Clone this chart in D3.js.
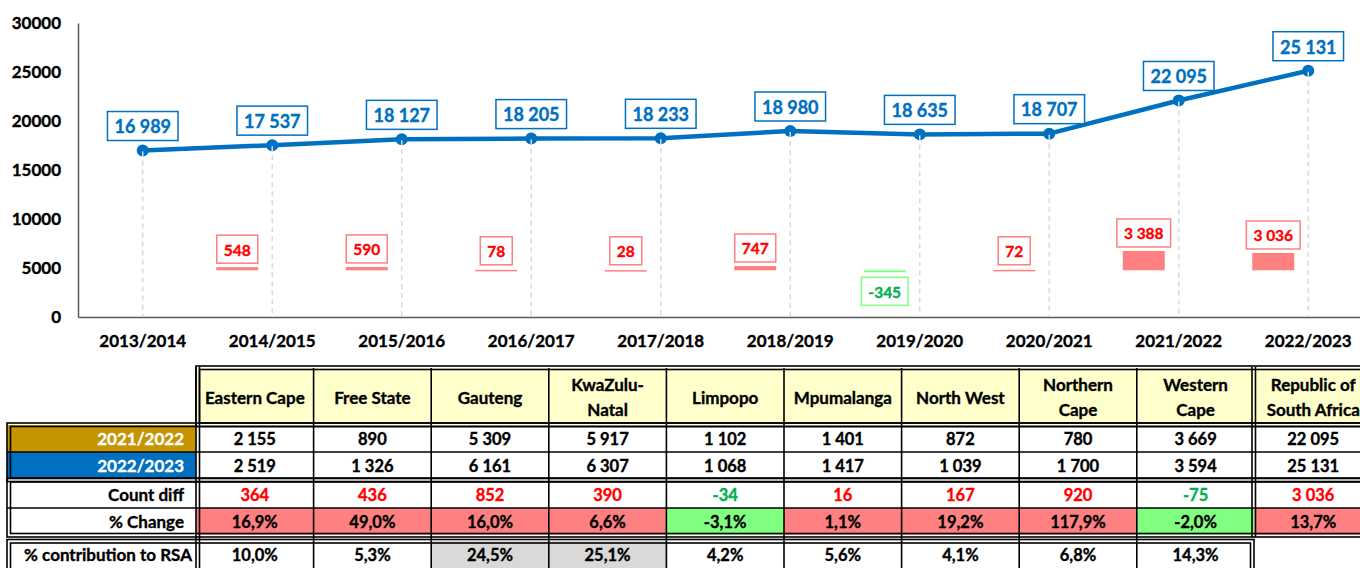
<!DOCTYPE html>
<html>
<head>
<meta charset="utf-8">
<script src="https://cdn.jsdelivr.net/npm/d3@7"></script>
<style>
    body { margin: 0; background: #fff; overflow: hidden; }
    svg { display: block; font-family: Lato, 'Liberation Sans', sans-serif; font-weight: bold; }
    svg text { stroke-width: 0.35px; }
</style>
</head>
<body>
<svg id="chart" width="1360" height="568"></svg>
<script>
// ---- chart data ----
const years = ['2013/2014', '2014/2015', '2015/2016', '2016/2017', '2017/2018',
    '2018/2019', '2019/2020', '2020/2021', '2021/2022', '2022/2023'];
const totals = [16989, 17537, 18127, 18205, 18233, 18980, 18635, 18707, 22095, 25131];
const yearDiffs = [null, 548, 590, 78, 28, 747, -345, 72, 3388, 3036];
const yTicks = [0, 5000, 10000, 15000, 20000, 25000, 30000];

// ---- table data ----
const provinces = ['Eastern Cape', 'Free State', 'Gauteng', 'KwaZulu-Natal', 'Limpopo',
    'Mpumalanga', 'North West', 'Northern Cape', 'Western Cape', 'Republic of South Africa'];
const provinceHeaders = [['Eastern Cape'], ['Free State'], ['Gauteng'], ['KwaZulu-', 'Natal'], ['Limpopo'],
    ['Mpumalanga'], ['North West'], ['Northern', 'Cape'], ['Western', 'Cape'], ['Republic of', 'South Africa']];
const count2122 = [2155, 890, 5309, 5917, 1102, 1401, 872, 780, 3669, 22095];
const count2223 = [2519, 1326, 6161, 6307, 1068, 1417, 1039, 1700, 3594, 25131];
const countDiff = [364, 436, 852, 390, -34, 16, 167, 920, -75, 3036];
const pctChange = [16.9, 49.0, 16.0, 6.6, -3.1, 1.1, 19.2, 117.9, -2.0, 13.7];
const contribution = [10.0, 5.3, 24.5, 25.1, 4.2, 5.6, 4.1, 6.8, 14.3];
const highlighted = ['Gauteng', 'KwaZulu-Natal'];

const locale = d3.formatLocale({decimal: ',', thousands: ' ', grouping: [3], currency: ['', ''], minus: '-'});
const fmtInt = locale.format(',d');
const fmtPct = v => locale.format('.1f')(v) + '%';

const BLUE = '#0070c0', RED = '#ff0000', GREEN = '#00b050';
const PINK = '#ff8080', LIME = '#80ff80';

const svg = d3.select('#chart');

// text gets a thin outline in its own colour so it reads as heavy as the original
const ink = (sel, colour) => sel.attr('fill', colour).attr('stroke', colour);

// ---------------- line chart ----------------
const x = d3.scaleBand().domain(years).range([78, 1373]);
const y = d3.scaleLinear().domain([0, 30000]).range([317, 23]);
const yDiff = d3.scaleLinear().domain([-8200, 43400]).range([317, 23]);
const cx = d => x(d) + x.bandwidth() / 2;

const yAxis = svg.append('g')
    .attr('transform', 'translate(78,0)')
    .call(d3.axisLeft(y).tickValues(yTicks).tickSize(0).tickPadding(17).tickFormat(d3.format('d')))
    .attr('font-family', null).attr('font-size', null);
yAxis.select('.domain').attr('stroke', '#595959').attr('stroke-width', 1.5);
yAxis.selectAll('text').attr('font-size', '17px').call(ink, '#000');

const xAxis = svg.append('g')
    .attr('transform', 'translate(0,317)')
    .call(d3.axisBottom(x).tickSize(0).tickPadding(18))
    .attr('font-family', null).attr('font-size', null);
xAxis.select('.domain').attr('stroke', '#595959').attr('stroke-width', 1.5);
xAxis.selectAll('text').attr('font-size', '17px').call(ink, '#000');

// year-on-year difference bars
const diffData = years.map((yr, i) => ({year: yr, value: yearDiffs[i]})).filter(d => d.value !== null);

svg.selectAll('.diff-bar')
    .data(diffData)
    .enter().append('rect')
    .attr('class', 'diff-bar')
    .attr('x', d => cx(d.year) - 56)
    .attr('y', d => Math.min(yDiff(d.value), yDiff(0)))
    .attr('width', 42)
    .attr('height', d => Math.max(1.5, Math.abs(yDiff(d.value) - yDiff(0))))
    .attr('fill', d => d.value < 0 ? LIME : PINK);

const diffLabels = svg.selectAll('.diff-label')
    .data(diffData)
    .enter().append('g')
    .attr('class', 'diff-label');

diffLabels.each(function (d) {
    const g = d3.select(this);
    const t = g.append('text')
        .attr('text-anchor', 'middle')
        .attr('font-size', '15.5px')
        .call(ink, d.value < 0 ? GREEN : RED)
        .text(fmtInt(d.value));
    const w = t.node().getComputedTextLength() + 14;
    const h = 28;
    const midX = cx(d.year) - 35;
    const top = d.value < 0 ? yDiff(d.value) + 5 : Math.min(yDiff(d.value), yDiff(0) - 1.5) - 4 - h;
    g.insert('rect', 'text')
        .attr('x', midX - w / 2)
        .attr('y', top)
        .attr('width', w)
        .attr('height', h)
        .attr('fill', '#fff')
        .attr('stroke', d.value < 0 ? LIME : PINK)
        .attr('stroke-width', 1.5);
    t.attr('x', midX).attr('y', top + h / 2 + 1).attr('dy', '0.35em');
});

// total line
const lineData = years.map((yr, i) => ({year: yr, value: totals[i]}));

svg.append('path')
    .datum(lineData)
    .attr('fill', 'none')
    .attr('stroke', BLUE)
    .attr('stroke-width', 4.5)
    .attr('stroke-linejoin', 'round')
    .attr('d', d3.line().x(d => cx(d.year)).y(d => y(d.value)));

svg.selectAll('.marker')
    .data(lineData)
    .enter().append('circle')
    .attr('class', 'marker')
    .attr('cx', d => cx(d.year))
    .attr('cy', d => y(d.value))
    .attr('r', 6)
    .attr('fill', BLUE);

svg.selectAll('.drop')
    .data(lineData)
    .enter().append('line')
    .attr('class', 'drop')
    .attr('x1', d => cx(d.year))
    .attr('x2', d => cx(d.year))
    .attr('y1', d => y(d.value) + 1)
    .attr('y2', 316)
    .attr('stroke', '#d9d9d9')
    .attr('stroke-width', 1.5)
    .attr('stroke-dasharray', '5,4');

svg.selectAll('.total-label')
    .data(lineData)
    .enter().append('g')
    .attr('class', 'total-label')
    .each(function (d) {
        const g = d3.select(this);
        const t = g.append('text')
            .attr('text-anchor', 'middle')
            .attr('font-size', '18px')
            .call(ink, BLUE)
            .text(fmtInt(d.value));
        const w = Math.max(65, t.node().getComputedTextLength() + 14);
        const h = 29;
        const top = y(d.value) - 10 - h;
        g.insert('rect', 'text')
            .attr('x', cx(d.year) - w / 2)
            .attr('y', top)
            .attr('width', w)
            .attr('height', h)
            .attr('fill', '#fff')
            .attr('stroke', BLUE)
            .attr('stroke-width', 1.5);
        t.attr('x', cx(d.year)).attr('y', top + h / 2 + 1).attr('dy', '0.35em');
    });

// ---------------- table ----------------
const col = d3.scaleBand().domain(provinces).range([196, 1372]);
const table = svg.append('g').attr('class', 'table');
const labelLeft = 7, labelRight = 196;

const rows = [
    {label: '2021/2022', top: 425, h: 27, values: count2122.map(fmtInt),
        labelFill: '#c59400', labelColor: '#fff'},
    {label: '2022/2023', top: 452, h: 27, values: count2223.map(fmtInt),
        labelFill: BLUE, labelColor: '#fff'},
    {label: 'Count diff', top: 481, h: 27, values: countDiff.map(fmtInt),
        color: (v, i) => countDiff[i] < 0 ? GREEN : RED},
    {label: '% Change', top: 508, h: 27, values: pctChange.map(fmtPct),
        fill: (v, i) => pctChange[i] < 0 ? LIME : PINK},
    {label: '% contribution to RSA', top: 541, h: 27, values: contribution.map(fmtPct),
        fill: (v, i) => highlighted.includes(provinces[i]) ? '#d9d9d9' : '#fff'}
];

// header
const header = table.selectAll('.head')
    .data(provinces)
    .enter().append('g')
    .attr('class', 'head');

header.append('rect')
    .attr('x', d => col(d))
    .attr('y', 368)
    .attr('width', col.bandwidth())
    .attr('height', 56)
    .attr('fill', '#ffffcc');

header.each(function (d, i) {
    const lines = provinceHeaders[i];
    const midY = 398 - (lines.length - 1) * 12.5;
    d3.select(this).selectAll('text')
        .data(lines)
        .enter().append('text')
        .attr('x', col(d) + col.bandwidth() / 2)
        .attr('y', (l, j) => midY + j * 25)
        .attr('dy', '0.35em')
        .attr('text-anchor', 'middle')
        .attr('font-size', '17px')
        .call(ink, '#000')
        .text(l => l);
});

// body rows
rows.forEach(r => {
    const g = table.append('g');
    g.append('rect')
        .attr('x', labelLeft)
        .attr('y', r.top)
        .attr('width', labelRight - labelLeft)
        .attr('height', r.h)
        .attr('fill', r.labelFill || '#fff');
    g.append('text')
        .attr('x', labelRight - (r.label.length > 12 ? 4 : 12))
        .attr('y', r.top + r.h / 2 + 1)
        .attr('dy', '0.35em')
        .attr('text-anchor', 'end')
        .attr('font-size', '17px')
        .call(ink, r.labelColor || '#000')
        .text(r.label);

    const cells = g.selectAll('.cell')
        .data(r.values)
        .enter().append('g')
        .attr('class', 'cell');
    cells.append('rect')
        .attr('x', (v, i) => col(provinces[i]))
        .attr('y', r.top)
        .attr('width', col.bandwidth())
        .attr('height', r.h)
        .attr('fill', (v, i) => r.fill ? r.fill(v, i) : '#fff');
    cells.append('text')
        .attr('x', (v, i) => col(provinces[i]) + col.bandwidth() / 2)
        .attr('y', r.top + r.h / 2 + 1)
        .attr('dy', '0.35em')
        .attr('text-anchor', 'middle')
        .attr('font-size', '16.5px')
        .each(function (v, i) { d3.select(this).call(ink, r.color ? r.color(v, i) : '#000'); })
        .text(v => v);
});

// grid lines
const lineAttr = sel => sel.attr('stroke', '#000').attr('stroke-width', 1.6).attr('fill', 'none');

// single horizontal lines inside groups
[452, 508].forEach(yy => {
    table.append('line').call(lineAttr)
        .attr('x1', labelLeft).attr('x2', 1372).attr('y1', yy).attr('y2', yy);
});

// vertical lines between provinces
provinces.slice(1).forEach((p, i) => {
    const xx = col(p);
    const bottom = i < 8 ? 568 : 536;
    if (p === 'Republic of South Africa') return;
    table.append('line').call(lineAttr)
        .attr('x1', xx).attr('x2', xx).attr('y1', 368).attr('y2', bottom);
});

// double borders around groups
function doubleBox(x0, y0, x1, y1) {
    table.append('rect').call(lineAttr)
        .attr('x', x0).attr('y', y0).attr('width', x1 - x0).attr('height', y1 - y0);
    table.append('rect').call(lineAttr)
        .attr('x', x0 + 3.5).attr('y', y0 + 3.5).attr('width', x1 - x0 - 7).attr('height', y1 - y0 - 7);
}
doubleBox(196, 366, 1380, 426.5);
doubleBox(7, 423, 1380, 481.5);
doubleBox(7, 478.5, 1380, 537);
doubleBox(7, 539.5, 1254, 580);

// double vertical separators
[[196, 367, 568], [199.5, 367, 568], [1252, 367, 537], [1255.5, 367, 537]].forEach(([xx, a, b]) => {
    table.append('line').call(lineAttr)
        .attr('x1', xx).attr('x2', xx).attr('y1', a).attr('y2', b);
});
</script>
</body>
</html>
